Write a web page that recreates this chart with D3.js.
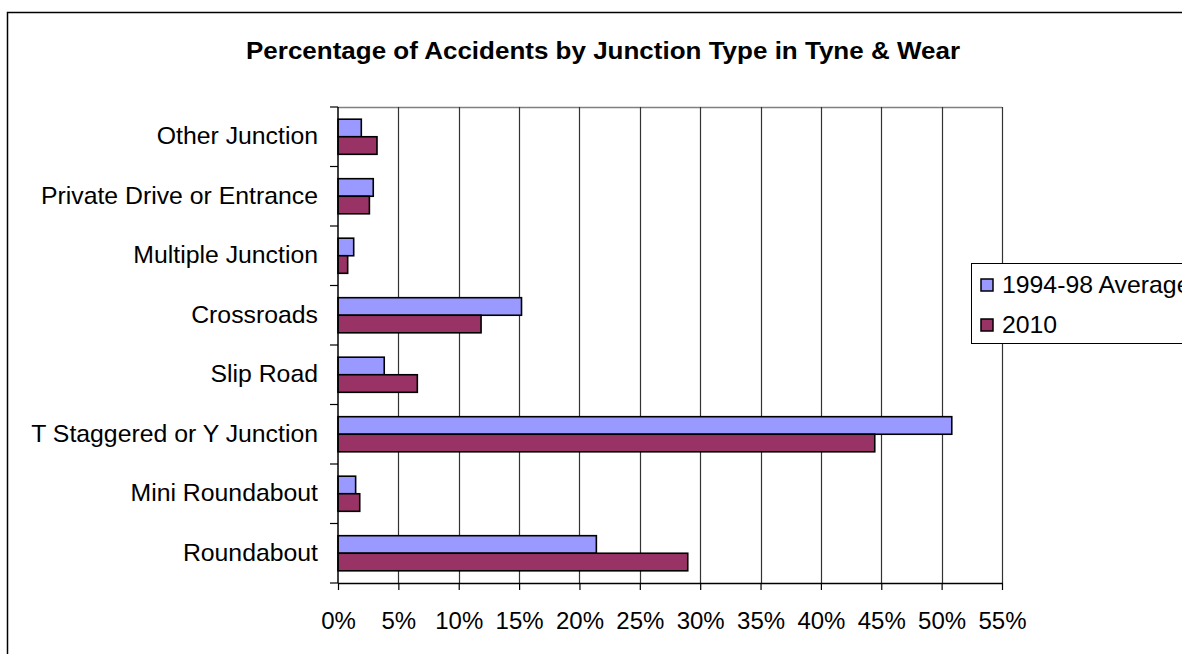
<!DOCTYPE html>
<html>
<head>
<meta charset="utf-8">
<script src="https://cdn.jsdelivr.net/npm/d3@7"></script>
<style>
  body { margin: 0; background: #fff; }
  text { font-family: "Liberation Sans", Arial, sans-serif; fill: #000; }
</style>
</head>
<body>
<svg id="chart" width="1182" height="654"></svg>
<script>
// chart values, top of the chart first
var categories = ['Other Junction', 'Private Drive or Entrance', 'Multiple Junction',
  'Crossroads', 'Slip Road', 'T Staggered or Y Junction', 'Mini Roundabout', 'Roundabout'];
var seriesNames = ['1994-98 Average', '2010'];
var avg9498 = [1.93, 2.92, 1.3, 15.2, 3.83, 50.84, 1.46, 21.4];
var year2010 = [3.23, 2.6, 0.8, 11.85, 6.57, 44.46, 1.8, 28.97];
var tickValues = [0, 5, 10, 15, 20, 25, 30, 35, 40, 45, 50, 55];
var seriesColors = ['#9999ff', '#993366'];

var svg = d3.select('#chart');

// outer chart border (runs off the right and bottom edges)
svg.append('rect')
  .attr('x', 7.5).attr('y', 12.5)
  .attr('width', 1300).attr('height', 800)
  .style('fill', '#fff')
  .style('stroke', '#000')
  .style('stroke-width', 1.5);

var plot = {left: 338, right: 1002, top: 107, bottom: 583};

var x = d3.scaleLinear().domain([0, 55]).range([plot.left, plot.right]);
var y = d3.scaleBand().domain(categories)
  .range([plot.top, plot.bottom])
  .paddingInner(0.41).paddingOuter(0.205);
var ySub = d3.scaleBand().domain(seriesNames).range([0, y.bandwidth()]);

// title
svg.append('text')
  .attr('x', 603).attr('y', 59)
  .attr('text-anchor', 'middle')
  .style('font-size', '24.5px')
  .style('font-weight', 'bold')
  .attr('textLength', 714)
  .attr('lengthAdjust', 'spacingAndGlyphs')
  .text('Percentage of Accidents by Junction Type in Tyne & Wear');

// plot area top edge
svg.append('line')
  .attr('x1', plot.left).attr('x2', plot.right)
  .attr('y1', plot.top + 0.5).attr('y2', plot.top + 0.5)
  .style('stroke', '#808080').style('stroke-width', 1.5);

// vertical gridlines
svg.append('g').selectAll('line')
  .data(tickValues.slice(1))
  .enter().append('line')
  .attr('x1', function(d) { return Math.round(x(d)) + 0.5; })
  .attr('x2', function(d) { return Math.round(x(d)) + 0.5; })
  .attr('y1', plot.top).attr('y2', plot.bottom)
  .style('stroke', '#333').style('stroke-width', 1.2);

// bars
var rows = categories.map(function(c, i) {
  return {cat: c, values: [avg9498[i], year2010[i]]};
});
var groups = svg.append('g').selectAll('g')
  .data(rows)
  .enter().append('g')
  .attr('transform', function(d) { return 'translate(0,' + y(d.cat) + ')'; });
groups.selectAll('rect')
  .data(function(d) {
    return d.values.map(function(v, j) { return {name: seriesNames[j], value: v, color: seriesColors[j]}; });
  })
  .enter().append('rect')
  .attr('x', x(0))
  .attr('y', function(d) { return ySub(d.name); })
  .attr('width', function(d) { return x(d.value) - x(0); })
  .attr('height', ySub.bandwidth())
  .style('fill', function(d) { return d.color; })
  .style('stroke', '#000')
  .style('stroke-width', 1.6);

// x axis
var xAxis = svg.append('g')
  .attr('transform', 'translate(0,' + plot.bottom + ')')
  .call(d3.axisBottom(x).tickValues(tickValues)
    .tickFormat(function(d) { return d + '%'; })
    .tickSizeInner(7).tickSizeOuter(0).tickPadding(22));
xAxis.select('.domain').style('stroke', '#000').style('stroke-width', 1.5);
xAxis.selectAll('.tick line').style('stroke', '#000').style('stroke-width', 1.2);
xAxis.selectAll('text').style('font-size', '24px').style('font-family', '"Liberation Sans", Arial, sans-serif');

// y axis: ticks sit between categories
var step = y.step();
var yBounds = d3.range(categories.length + 1).map(function(i) { return plot.top + i * step; });
svg.append('line')
  .attr('x1', plot.left).attr('x2', plot.left)
  .attr('y1', plot.top).attr('y2', plot.bottom)
  .style('stroke', '#000').style('stroke-width', 1.5);
svg.append('g').selectAll('line')
  .data(yBounds)
  .enter().append('line')
  .attr('x1', plot.left - 8).attr('x2', plot.left)
  .attr('y1', function(d) { return d; }).attr('y2', function(d) { return d; })
  .style('stroke', '#000').style('stroke-width', 1.2);
svg.append('g').selectAll('text')
  .data(categories)
  .enter().append('text')
  .attr('x', 318)
  .attr('y', function(d) { return y(d) + y.bandwidth() / 2 - 1; })
  .attr('dy', '0.35em')
  .attr('text-anchor', 'end')
  .style('font-size', '24.8px')
  .text(function(d) { return d; });

// legend
var legend = svg.append('g').attr('transform', 'translate(971,263)');
legend.append('rect')
  .attr('x', 0.5).attr('y', 0.5)
  .attr('width', 300).attr('height', 80)
  .style('fill', '#fff').style('stroke', '#000').style('stroke-width', 1);
var items = legend.selectAll('g.item')
  .data(seriesNames)
  .enter().append('g')
  .attr('class', 'item')
  .attr('transform', function(d, i) { return 'translate(0,' + (i * 40) + ')'; });
items.append('rect')
  .attr('x', 10).attr('y', 16)
  .attr('width', 12).attr('height', 12)
  .style('fill', function(d, i) { return seriesColors[i]; })
  .style('stroke', '#000').style('stroke-width', 1.5);
items.append('text')
  .attr('x', 31).attr('y', 30)
  .style('font-size', '24.8px')
  .text(function(d) { return d; });
</script>
</body>
</html>
